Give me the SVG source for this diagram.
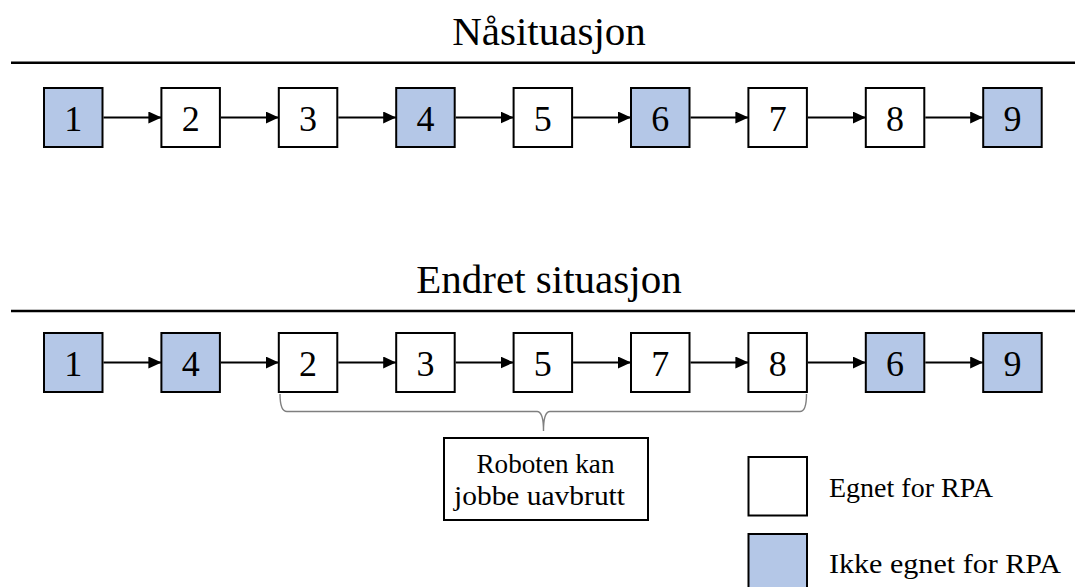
<svg xmlns="http://www.w3.org/2000/svg" width="1075" height="587" viewBox="0 0 1075 587" font-family="'Liberation Serif', 'Times New Roman', Tinos, 'DejaVu Serif', serif">
<style>
text{font-family:'Liberation Serif','Times New Roman',Tinos,'DejaVu Serif',serif;fill:#000}
.box{stroke:#000;stroke-width:2}
.w{fill:#fff}
.b{fill:#B4C7E7}
.num{font-size:36px;text-anchor:middle}
.title{font-size:41px;text-anchor:middle}
.lbl{font-size:28px}
.sep{stroke:#000;stroke-width:2.5}
.arr{stroke:#000;stroke-width:1.8;fill:none;marker-end:url(#ah)}
</style>
<defs>
<marker id="ah" viewBox="0 0 13 12" refX="13" refY="6" markerWidth="13" markerHeight="12" markerUnits="userSpaceOnUse" orient="auto">
<path d="M0,0 L13,6 L0,12 Z" fill="#000"/>
</marker>
</defs>
<rect width="1075" height="587" fill="#fff"/>
<g id="title-top"><text class="title" x="549" y="45">Nåsituasjon</text></g>
<line class="sep" x1="11" y1="62.7" x2="1075" y2="62.7"/>
<g id="title-bottom"><text class="title" x="549" y="293">Endret situasjon</text></g>
<line class="sep" x1="11" y1="311" x2="1075" y2="311"/>

<g id="connectors">
<line class="arr" x1="103.5" y1="117.5" x2="161.4" y2="117.5"/>
<line class="arr" x1="220.9" y1="117.5" x2="278.8" y2="117.5"/>
<line class="arr" x1="338.3" y1="117.5" x2="396.2" y2="117.5"/>
<line class="arr" x1="455.7" y1="117.5" x2="513.6" y2="117.5"/>
<line class="arr" x1="573.1" y1="117.5" x2="631.0" y2="117.5"/>
<line class="arr" x1="690.5" y1="117.5" x2="748.4" y2="117.5"/>
<line class="arr" x1="807.9" y1="117.5" x2="865.8" y2="117.5"/>
<line class="arr" x1="925.3" y1="117.5" x2="983.2" y2="117.5"/>

<line class="arr" x1="103.5" y1="362.5" x2="161.4" y2="362.5"/>
<line class="arr" x1="220.9" y1="362.5" x2="278.8" y2="362.5"/>
<line class="arr" x1="338.3" y1="362.5" x2="396.2" y2="362.5"/>
<line class="arr" x1="455.7" y1="362.5" x2="513.6" y2="362.5"/>
<line class="arr" x1="573.1" y1="362.5" x2="631.0" y2="362.5"/>
<line class="arr" x1="690.5" y1="362.5" x2="748.4" y2="362.5"/>
<line class="arr" x1="807.9" y1="362.5" x2="865.8" y2="362.5"/>
<line class="arr" x1="925.3" y1="362.5" x2="983.2" y2="362.5"/>

<path d="M280,394 Q280,411.5 287,411.5 L537,411.5 Q543.5,411.5 543.5,431 Q543.5,411.5 550,411.5 L800,411.5 Q806.5,411.5 806.5,394" fill="none" stroke="#7f7f7f" stroke-width="1.4"/>
</g>

<g id="top-1"><rect class="box b" x="44" y="88" width="58.5" height="59"/><text class="num" x="73.25" y="130.5">1</text></g>
<g id="top-2"><rect class="box w" x="161.4" y="88" width="58.5" height="59"/><text class="num" x="190.65" y="130.5">2</text></g>
<g id="top-3"><rect class="box w" x="278.8" y="88" width="58.5" height="59"/><text class="num" x="308.05" y="130.5">3</text></g>
<g id="top-4"><rect class="box b" x="396.2" y="88" width="58.5" height="59"/><text class="num" x="425.45" y="130.5">4</text></g>
<g id="top-5"><rect class="box w" x="513.6" y="88" width="58.5" height="59"/><text class="num" x="542.85" y="130.5">5</text></g>
<g id="top-6"><rect class="box b" x="631" y="88" width="58.5" height="59"/><text class="num" x="660.25" y="130.5">6</text></g>
<g id="top-7"><rect class="box w" x="748.4" y="88" width="58.5" height="59"/><text class="num" x="777.65" y="130.5">7</text></g>
<g id="top-8"><rect class="box w" x="865.8" y="88" width="58.5" height="59"/><text class="num" x="895.05" y="130.5">8</text></g>
<g id="top-9"><rect class="box b" x="983.2" y="88" width="58.5" height="59"/><text class="num" x="1012.45" y="130.5">9</text></g>

<g id="bot-1"><rect class="box b" x="44" y="333" width="58.5" height="59"/><text class="num" x="73.25" y="375.5">1</text></g>
<g id="bot-4"><rect class="box b" x="161.4" y="333" width="58.5" height="59"/><text class="num" x="190.65" y="375.5">4</text></g>
<g id="bot-2"><rect class="box w" x="278.8" y="333" width="58.5" height="59"/><text class="num" x="308.05" y="375.5">2</text></g>
<g id="bot-3"><rect class="box w" x="396.2" y="333" width="58.5" height="59"/><text class="num" x="425.45" y="375.5">3</text></g>
<g id="bot-5"><rect class="box w" x="513.6" y="333" width="58.5" height="59"/><text class="num" x="542.85" y="375.5">5</text></g>
<g id="bot-7"><rect class="box w" x="631" y="333" width="58.5" height="59"/><text class="num" x="660.25" y="375.5">7</text></g>
<g id="bot-8"><rect class="box w" x="748.4" y="333" width="58.5" height="59"/><text class="num" x="777.65" y="375.5">8</text></g>
<g id="bot-6"><rect class="box b" x="865.8" y="333" width="58.5" height="59"/><text class="num" x="895.05" y="375.5">6</text></g>
<g id="bot-9"><rect class="box b" x="983.2" y="333" width="58.5" height="59"/><text class="num" x="1012.45" y="375.5">9</text></g>

<g id="callout">
<rect class="box w" x="444" y="438" width="204" height="82"/>
<text class="lbl" x="545.5" y="472.5" text-anchor="middle" textLength="138" lengthAdjust="spacingAndGlyphs">Roboten kan</text>
<text class="lbl" x="539.5" y="504.5" text-anchor="middle" textLength="171" lengthAdjust="spacingAndGlyphs">jobbe uavbrutt</text>
</g>

<g id="legend-egnet">
<rect class="box w" x="748.5" y="457" width="58.5" height="58.5"/>
<text class="lbl" x="829" y="497">Egnet for RPA</text>
</g>
<g id="legend-ikke">
<rect class="box b" x="748.5" y="534" width="58.5" height="60"/>
<text class="lbl" x="829" y="573" textLength="232" lengthAdjust="spacingAndGlyphs">Ikke egnet for RPA</text>
</g>
</svg>
